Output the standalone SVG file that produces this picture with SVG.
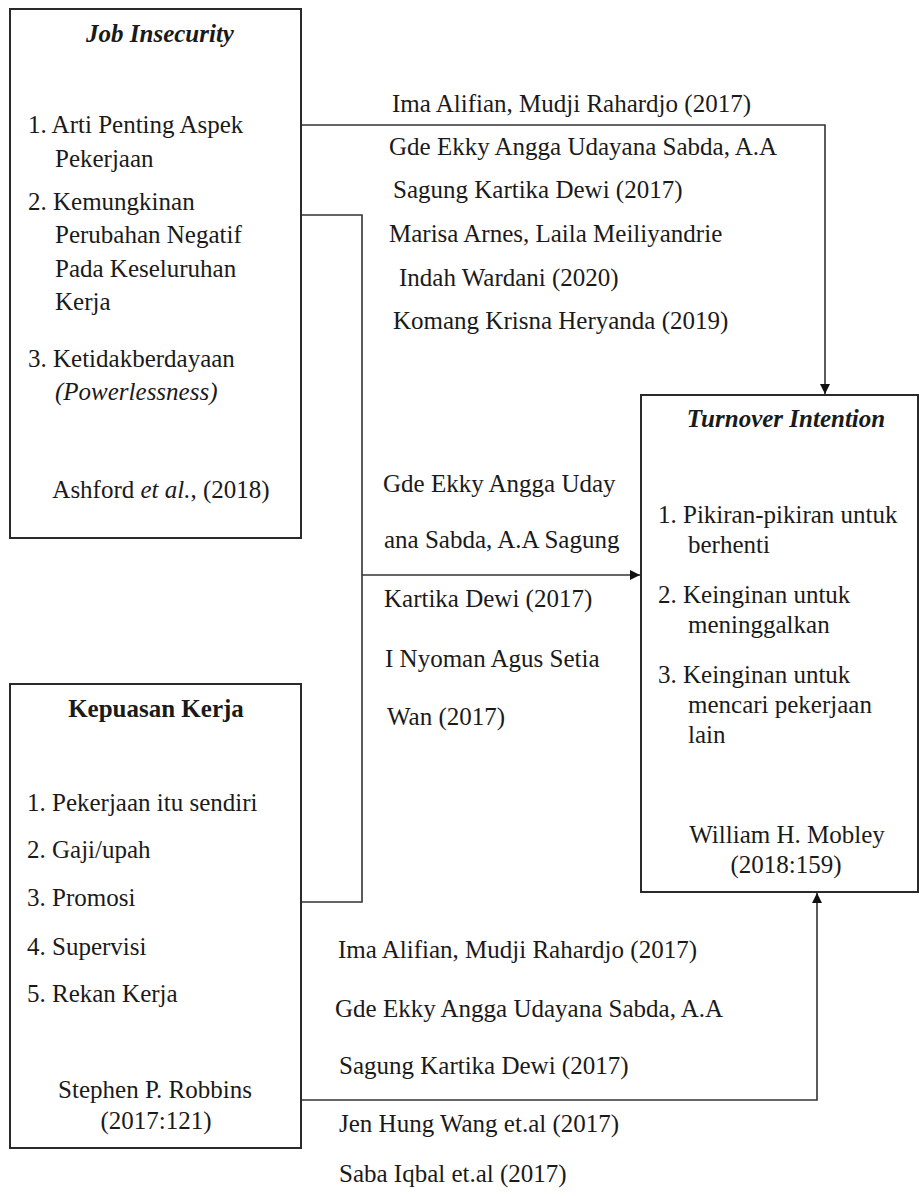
<svg xmlns="http://www.w3.org/2000/svg" width="919" height="1198" viewBox="0 0 919 1198">
<defs>
<style>
text{font-family:'Liberation Serif','Times New Roman',Tinos,'DejaVu Serif',serif;font-size:25px;fill:#1a1a1a}
.t{font-weight:bold;font-style:italic}
.b{font-weight:bold}
.i{font-style:italic}
.m{text-anchor:middle}
.box{fill:#fff;stroke:#2a2a2a;stroke-width:2}
.ln{fill:none;stroke:#333;stroke-width:1.6}
</style>
<marker id="ar" viewBox="0 0 10 10" refX="10" refY="5" markerWidth="10" markerHeight="10" markerUnits="userSpaceOnUse" orient="auto">
<path d="M0,0 L10,5 L0,10 Z" fill="#111"/>
</marker>
</defs>
<rect width="919" height="1198" fill="#fff"/>
<g id="connectors">
<polyline class="ln" points="301,125 825,125 825,394" marker-end="url(#ar)"/>
<polyline class="ln" points="301,215 362,215 362,902 301,902"/>
<line class="ln" x1="362" y1="575" x2="640" y2="575" marker-end="url(#ar)"/>
<polyline class="ln" points="301,1100 817,1100 817,893" marker-end="url(#ar)"/>
</g>
<g font-family="Liberation Serif, Times New Roman, serif">
<g id="job-insecurity">
<rect class="box" x="10" y="9" width="291" height="529"/>
<text class="t m" x="160" y="42">Job Insecurity</text>
<text x="28" y="133">1. Arti Penting Aspek</text>
<text x="55" y="167">Pekerjaan</text>
<text x="28" y="210">2. Kemungkinan</text>
<text x="55" y="243">Perubahan Negatif</text>
<text x="55" y="277">Pada Keseluruhan</text>
<text x="55" y="310">Kerja</text>
<text x="28" y="367">3. Ketidakberdayaan</text>
<text class="i" x="55" y="400">(Powerlessness)</text>
<text class="m" x="161" y="498">Ashford <tspan class="i">et al.</tspan>, (2018)</text>
</g>
<g id="kepuasan-kerja">
<rect class="box" x="10" y="684" width="291" height="464"/>
<text class="b m" x="156" y="717">Kepuasan Kerja</text>
<text x="27" y="811">1. Pekerjaan itu sendiri</text>
<text x="27" y="858">2. Gaji/upah</text>
<text x="27" y="906">3. Promosi</text>
<text x="27" y="955">4. Supervisi</text>
<text x="27" y="1002">5. Rekan Kerja</text>
<text class="m" x="155" y="1098">Stephen P. Robbins</text>
<text class="m" x="156" y="1129">(2017:121)</text>
</g>
<g id="turnover-intention">
<rect class="box" x="641" y="395" width="277" height="497"/>
<text class="t m" x="786" y="427">Turnover Intention</text>
<text x="658" y="523">1. Pikiran-pikiran untuk</text>
<text x="688" y="553">berhenti</text>
<text x="658" y="603">2. Keinginan untuk</text>
<text x="688" y="633">meninggalkan</text>
<text x="658" y="683">3. Keinginan untuk</text>
<text x="688" y="713">mencari pekerjaan</text>
<text x="688" y="743">lain</text>
<text class="m" x="787" y="843">William H. Mobley</text>
<text class="m" x="786" y="873">(2018:159)</text>
</g>
<g id="citations-top">
<text x="392" y="112">Ima Alifian, Mudji Rahardjo (2017)</text>
<text x="389" y="155">Gde Ekky Angga Udayana Sabda, A.A</text>
<text x="393" y="198">Sagung Kartika Dewi (2017)</text>
<text x="389" y="242">Marisa Arnes, Laila Meiliyandrie</text>
<text x="399" y="286">Indah Wardani (2020)</text>
<text x="393" y="329">Komang Krisna Heryanda (2019)</text>
</g>
<g id="citations-middle">
<text x="383" y="492">Gde Ekky Angga Uday</text>
<text x="384" y="548">ana Sabda, A.A Sagung</text>
<text x="384" y="607">Kartika Dewi (2017)</text>
<text x="385" y="667">I Nyoman Agus Setia</text>
<text x="387" y="725">Wan (2017)</text>
</g>
<g id="citations-bottom">
<text x="338" y="958">Ima Alifian, Mudji Rahardjo (2017)</text>
<text x="335" y="1017">Gde Ekky Angga Udayana Sabda, A.A</text>
<text x="339" y="1074">Sagung Kartika Dewi (2017)</text>
<text x="339" y="1132">Jen Hung Wang et.al (2017)</text>
<text x="339" y="1182">Saba Iqbal et.al (2017)</text>
</g>
</g>
</svg>
